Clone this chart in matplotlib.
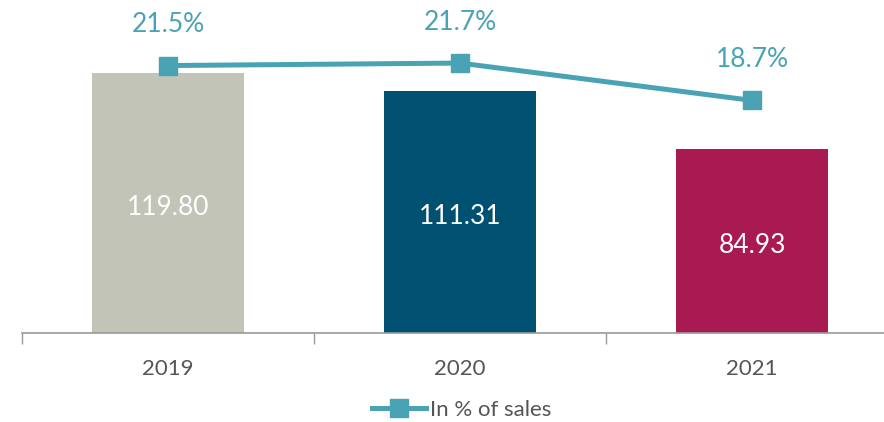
import matplotlib.pyplot as plt
import numpy as np

years = ['2019', '2020', '2021']
amounts = [119.80, 111.31, 84.93]
pct_of_sales = [21.5, 21.7, 18.7]
bar_colors = ['#c1c4b6', '#005072', '#a91a52']
line_color = '#4aa3b5'

plt.rcParams['font.family'] = ['Lato', 'DejaVu Sans']

fig = plt.figure(figsize=(8.84, 4.22), dpi=100)
# axes spans from x=22px to 898px (runs off the right edge), baseline at y=333px
ax = fig.add_axes([22 / 884, (422 - 333) / 422, 876 / 884, 333 / 422])
x = np.arange(len(years))

ax.bar(x, amounts, width=0.52, color=bar_colors, zorder=2)
for xi, v in zip(x, amounts):
    ax.text(xi, v / 2 - 2, f'{v:.2f}', ha='center', va='center',
            color='white', fontsize=19)

ax.set_xlim(-0.5, 2.5)
ax.set_ylim(0, 153.4)
ax.set_yticks([])
for s in ['top', 'right', 'left']:
    ax.spines[s].set_visible(False)
ax.spines['bottom'].set_color('#999999')
ax.spines['bottom'].set_linewidth(1.2)
ax.set_xticks([-0.5, 0.5, 1.5, 2.5], minor=False)
ax.set_xticklabels([])
ax.tick_params(axis='x', length=8, width=1, color='#999999', direction='out')
ax.set_xticks(x, minor=True)
ax.set_xticklabels(years, minor=True)
ax.tick_params(axis='x', which='minor', length=0, pad=19, labelsize=16,
               labelcolor='#555555')

ax2 = ax.twinx()
ax2.set_ylim(0, 26.77)
ax2.axis('off')
ax2.plot(x, pct_of_sales, color=line_color, lw=3.6, marker='s',
         markersize=13.5, label='In % of sales', zorder=3)
for xi, v in zip(x, pct_of_sales):
    ax2.text(xi, v + 3.3, f'{v}%', ha='center', va='center',
             color=line_color, fontsize=19)

fig.legend(loc='center', bbox_to_anchor=(462 / 884, 1 - 410 / 422),
           frameon=False, fontsize=16, handlelength=2.4, handletextpad=0.2,
           labelcolor='#555555')

plt.savefig('out.png', dpi=100)
